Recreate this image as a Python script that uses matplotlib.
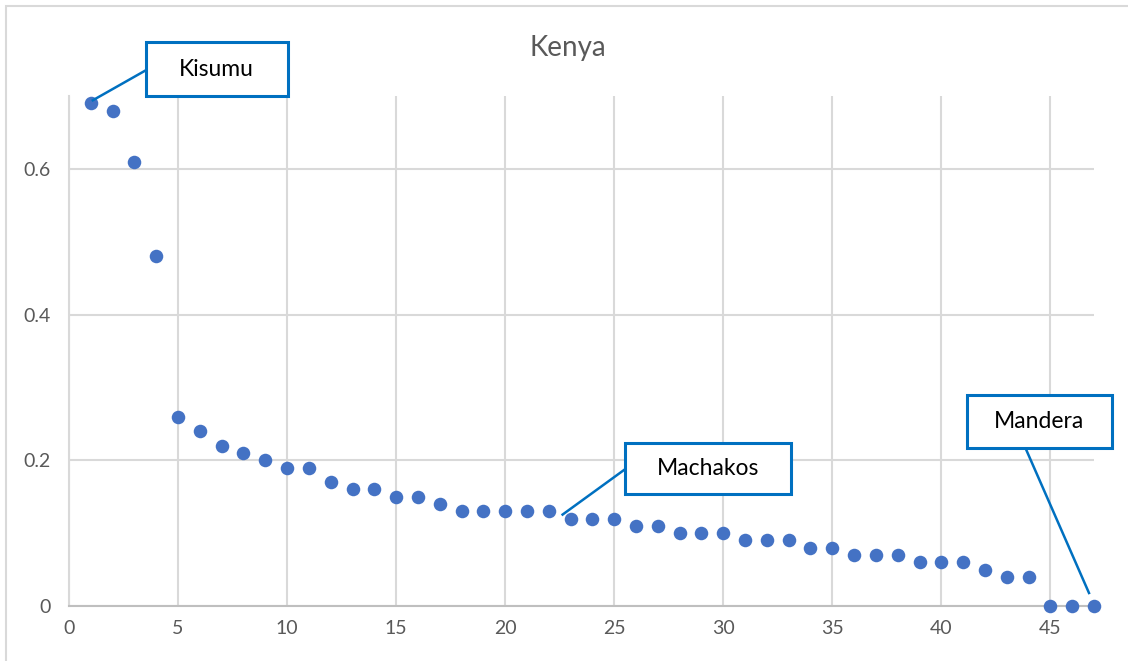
import numpy as np
import matplotlib
matplotlib.use("Agg")
import matplotlib.pyplot as plt
from matplotlib.patches import Rectangle
import matplotlib.lines as lines

# datos
rank = np.arange(1, 48)
share = [0.69, 0.68, 0.61, 0.48, 0.26, 0.24, 0.22, 0.21, 0.20, 0.19,
         0.19, 0.17, 0.16, 0.16, 0.15, 0.15, 0.14, 0.13, 0.13, 0.13,
         0.13, 0.13, 0.12, 0.12, 0.12, 0.11, 0.11, 0.10, 0.10, 0.10,
         0.09, 0.09, 0.09, 0.08, 0.08, 0.07, 0.07, 0.07, 0.06, 0.06,
         0.06, 0.05, 0.04, 0.04, 0.0, 0.0, 0.0]
x_ticks = [0, 5, 10, 15, 20, 25, 30, 35, 40, 45]
y_ticks = [0, 0.2, 0.4, 0.6]
y_tick_labels = ["0", "0.2", "0.4", "0.6"]
callout_names = ["Kisumu", "Machakos", "Mandera"]
callout_rank = [1, 23, 47]

# estilo de los globos: centro (dx, dy), tamano (w, h), inicio y fin de la linea (px)
callout_style = {
    "Kisumu":   dict(center=(126, 34), size=(142, 54), tip=(2, 3), anchor=(-71, -1)),
    "Machakos": dict(center=(137, 50), size=(166, 51), tip=(-8, 4), anchor=(-83, -1)),
    "Mandera":  dict(center=(-55, 185), size=(145, 53), tip=(-5, 13), anchor=(-14, -26)),
}

W, H = 1128, 661
plt.rcParams["font.family"] = ["Lato", "DejaVu Sans"]

fig = plt.figure(figsize=(W / 100, H / 100), dpi=100)
ax = fig.add_axes([69 / W, 1 - 606 / H, (1094 - 69) / W, (606 - 96) / H])

grid_c = "#D9D9D9"
blue = "#4472C4"
box_c = "#0070C0"
txt_c = "#595959"

ax.scatter(rank, share, s=95, color=blue, zorder=3, clip_on=False, linewidths=0)

ax.set_xlim(0, 47)
ax.set_ylim(0, 0.7)
ax.set_xticks(x_ticks)
ax.set_yticks(y_ticks)
ax.set_yticklabels(y_tick_labels)
ax.grid(True, color=grid_c, linewidth=1.5)
ax.set_axisbelow(True)
for s in ["top", "right"]:
    ax.spines[s].set_visible(False)
ax.spines["left"].set_color(grid_c)
ax.spines["left"].set_linewidth(1.5)
ax.spines["bottom"].set_color("#BFBFBF")
ax.spines["bottom"].set_linewidth(1.5)
ax.tick_params(axis="both", length=0, labelsize=14, labelcolor=txt_c)
ax.tick_params(axis="x", pad=10)
ax.tick_params(axis="y", pad=13)

# titulo
fig.text(0.503, 1 - 56 / H, "Kenya", ha="center", va="baseline", fontsize=20, color=txt_c)

# borde exterior
fig.add_artist(Rectangle((6 / W, -0.05), 1.0, 1.05 - 6 / H, transform=fig.transFigure,
                         fill=False, edgecolor=grid_c, linewidth=1.5))

# globos
fig.canvas.draw()
for name, r in zip(callout_names, callout_rank):
    st = callout_style[name]
    px, py = ax.transData.transform((r, share[r - 1]))
    cx, cy = px + st["center"][0], py + st["center"][1]
    w, h = st["size"]
    fig.add_artist(Rectangle((cx - w / 2, cy - h / 2), w, h, transform=None,
                             facecolor="white", edgecolor=box_c, linewidth=2.2, zorder=5))
    fig.add_artist(lines.Line2D([px + st["tip"][0], cx + st["anchor"][0]],
                                [py + st["tip"][1], cy + st["anchor"][1]],
                                transform=None, color=box_c, linewidth=1.8, zorder=4))
    fig.text(cx / W, cy / H, name, ha="center", va="center", fontsize=16.5,
             color="black", zorder=6)

fig.savefig("out.png", dpi=100)
